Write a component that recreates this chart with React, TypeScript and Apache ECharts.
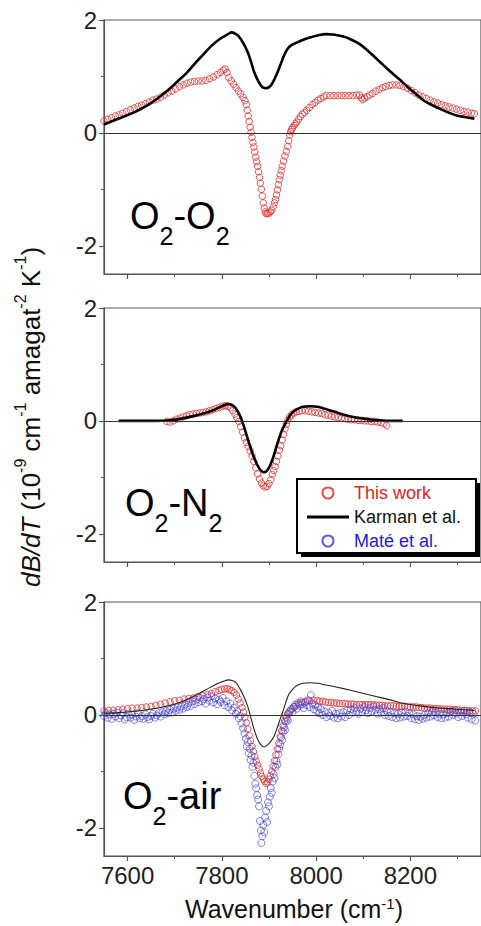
import React, { useEffect, useRef } from "react";
import * as echarts from "echarts";

const FONT = '"Liberation Sans", Arial, Helvetica, sans-serif';

const xTicks = [7600, 7800, 8000, 8200];
const xMinorTicks = [7700, 7900, 8100, 8300];
const yTicks = [-2, 0, 2];
const yMinorTicks = [-1, 1];
const panelNames = ["O2-O2", "O2-N2", "O2-air"];
const legendNames = ["This work", "Karman et al.", "Maté et al."];

// Panel 1: O2-O2
const o2o2Work: [number, number][] = [
  [7550, 0.21], [7558, 0.24], [7566, 0.27], [7574, 0.3], [7582, 0.32], [7590, 0.35], [7598, 0.38],
  [7606, 0.41], [7614, 0.44], [7622, 0.47], [7630, 0.49], [7638, 0.52], [7646, 0.55], [7654, 0.58],
  [7662, 0.6], [7670, 0.63], [7678, 0.67], [7686, 0.71], [7694, 0.74], [7702, 0.78], [7710, 0.82],
  [7718, 0.85], [7726, 0.88], [7734, 0.9], [7742, 0.91], [7750, 0.92], [7758, 0.92], [7766, 0.93],
  [7774, 0.96], [7782, 0.99], [7790, 1.03], [7797, 1.07], [7803, 1.11], [7807, 1.13], [7811, 1.07],
  [7815, 0.98], [7820, 0.92], [7825, 0.86], [7830, 0.8], [7835, 0.74], [7840, 0.69], [7845, 0.63],
  [7849, 0.57], [7852, 0.5], [7854, 0.4], [7856, 0.3], [7858, 0.2], [7860, 0.1], [7862, 0.01],
  [7864, -0.08], [7866, -0.17], [7868, -0.25], [7870, -0.34], [7872, -0.43], [7874, -0.51],
  [7876, -0.59], [7878, -0.69], [7880, -0.79], [7882, -0.89], [7884, -1.0], [7886, -1.12],
  [7888, -1.24], [7890, -1.33], [7892, -1.4], [7894, -1.43], [7897, -1.43], [7900, -1.42],
  [7903, -1.4], [7906, -1.37], [7909, -1.31], [7912, -1.24], [7914, -1.18], [7916, -1.1],
  [7918, -1.01], [7920, -0.92], [7922, -0.83], [7924, -0.75], [7926, -0.67], [7928, -0.59],
  [7931, -0.5], [7934, -0.41], [7937, -0.33], [7940, -0.24], [7942, -0.14], [7944, -0.04],
  [7946, 0.02], [7948, 0.06], [7950, 0.09], [7953, 0.13], [7956, 0.16], [7959, 0.19], [7963, 0.24],
  [7967, 0.29], [7971, 0.33], [7975, 0.36], [7980, 0.4], [7986, 0.45], [7992, 0.5], [7998, 0.54],
  [8004, 0.58], [8010, 0.61], [8016, 0.64], [8022, 0.66], [8030, 0.66], [8038, 0.66], [8046, 0.66],
  [8054, 0.66], [8062, 0.66], [8070, 0.66], [8078, 0.66], [8086, 0.67], [8092, 0.67], [8096, 0.62],
  [8099, 0.59], [8103, 0.62], [8108, 0.64], [8114, 0.67], [8120, 0.7], [8127, 0.74], [8134, 0.77],
  [8141, 0.8], [8148, 0.82], [8155, 0.84], [8162, 0.85], [8170, 0.85], [8178, 0.84], [8186, 0.82],
  [8194, 0.79], [8202, 0.75], [8210, 0.71], [8218, 0.67], [8226, 0.64], [8234, 0.61], [8242, 0.58],
  [8250, 0.55], [8258, 0.53], [8266, 0.5], [8274, 0.48], [8282, 0.46], [8290, 0.44], [8298, 0.42],
  [8306, 0.4], [8314, 0.38], [8322, 0.37], [8330, 0.35], [8336, 0.34],
];
const o2o2Karman: [number, number][] = [
  [7550, 0.15], [7580, 0.25], [7613, 0.36], [7640, 0.48], [7662, 0.6], [7685, 0.75], [7703, 0.89],
  [7725, 1.06], [7745, 1.25], [7762, 1.4], [7779, 1.55], [7795, 1.66], [7807, 1.72], [7815, 1.76],
  [7821, 1.78], [7828, 1.76], [7835, 1.72], [7845, 1.6], [7855, 1.43], [7862, 1.26], [7869, 1.07],
  [7876, 0.94], [7883, 0.84], [7888, 0.8], [7893, 0.79], [7898, 0.8], [7904, 0.84], [7911, 0.94],
  [7918, 1.07], [7925, 1.22], [7932, 1.37], [7939, 1.48], [7947, 1.55], [7959, 1.6], [7973, 1.65],
  [7987, 1.69], [8005, 1.73], [8022, 1.75], [8040, 1.74], [8056, 1.71], [8073, 1.66], [8091, 1.58],
  [8108, 1.47], [8125, 1.34], [8143, 1.2], [8160, 1.07], [8178, 0.94], [8195, 0.81], [8212, 0.69],
  [8229, 0.57], [8247, 0.49], [8264, 0.42], [8281, 0.36], [8298, 0.31], [8316, 0.28], [8336, 0.25],
];

// Panel 2: O2-N2
const o2n2Work: [number, number][] = [
  [7683, -0.01], [7690, -0.02], [7697, 0.0], [7704, 0.03], [7711, 0.05], [7718, 0.07], [7725, 0.09],
  [7732, 0.11], [7739, 0.12], [7746, 0.13], [7753, 0.14], [7760, 0.15], [7767, 0.16], [7774, 0.18],
  [7781, 0.2], [7788, 0.22], [7795, 0.24], [7802, 0.26], [7808, 0.27], [7813, 0.26], [7818, 0.23],
  [7823, 0.18], [7828, 0.12], [7832, 0.06], [7836, -0.01], [7840, -0.1], [7844, -0.2], [7848, -0.3],
  [7852, -0.38], [7856, -0.45], [7860, -0.53], [7864, -0.62], [7868, -0.72], [7872, -0.83],
  [7876, -0.94], [7880, -1.03], [7884, -1.1], [7888, -1.15], [7892, -1.17], [7896, -1.16],
  [7900, -1.11], [7904, -1.04], [7907, -0.95], [7910, -0.88], [7913, -0.81], [7916, -0.72],
  [7919, -0.62], [7922, -0.52], [7925, -0.44], [7928, -0.34], [7931, -0.24], [7934, -0.14],
  [7937, -0.06], [7940, 0.01], [7944, 0.07], [7948, 0.11], [7953, 0.14], [7958, 0.16], [7964, 0.17],
  [7970, 0.18], [7977, 0.18], [7984, 0.17], [7991, 0.16], [7998, 0.15], [8005, 0.14], [8012, 0.13],
  [8019, 0.11], [8026, 0.1], [8033, 0.08], [8040, 0.07], [8047, 0.06], [8054, 0.05], [8061, 0.04],
  [8068, 0.03], [8075, 0.02], [8082, 0.02], [8089, 0.01], [8096, 0.01], [8103, 0.0], [8110, 0.0],
  [8117, -0.01], [8124, -0.01], [8131, -0.02], [8138, -0.03], [8144, -0.05], [8150, -0.08],
];
const o2n2Karman: [number, number][] = [
  [7581, 0.0], [7620, 0.0], [7660, 0.0], [7690, 0.01], [7715, 0.04], [7737, 0.08], [7760, 0.13],
  [7779, 0.18], [7795, 0.24], [7806, 0.28], [7814, 0.3], [7822, 0.28], [7830, 0.22], [7837, 0.12],
  [7843, 0.0], [7850, -0.18], [7858, -0.4], [7866, -0.6], [7874, -0.76], [7882, -0.87], [7889, -0.91],
  [7895, -0.89], [7902, -0.8], [7910, -0.62], [7918, -0.4], [7926, -0.2], [7934, -0.06], [7942, 0.06],
  [7950, 0.15], [7960, 0.21], [7972, 0.25], [7987, 0.26], [8003, 0.25], [8020, 0.21], [8040, 0.16],
  [8063, 0.1], [8085, 0.06], [8110, 0.03], [8132, 0.01], [8160, 0.0], [8184, 0.0],
];

// Panel 3: O2-air
const o2airWork: [number, number][] = [
  [7550, 0.07], [7560, 0.08], [7570, 0.08], [7580, 0.09], [7590, 0.1], [7600, 0.11], [7610, 0.12],
  [7620, 0.12], [7630, 0.13], [7640, 0.14], [7650, 0.15], [7660, 0.17], [7670, 0.19], [7680, 0.21],
  [7690, 0.23], [7700, 0.25], [7710, 0.26], [7720, 0.28], [7730, 0.29], [7740, 0.3], [7750, 0.32],
  [7760, 0.34], [7770, 0.36], [7778, 0.38], [7786, 0.41], [7794, 0.43], [7800, 0.45], [7806, 0.46],
  [7811, 0.46], [7816, 0.45], [7821, 0.43], [7826, 0.4], [7831, 0.35], [7835, 0.28], [7839, 0.21],
  [7843, 0.13], [7846, 0.05], [7849, -0.04], [7852, -0.14], [7855, -0.25], [7858, -0.36],
  [7861, -0.46], [7864, -0.56], [7867, -0.65], [7870, -0.74], [7873, -0.82], [7876, -0.89],
  [7879, -0.96], [7882, -1.03], [7885, -1.09], [7888, -1.14], [7891, -1.18], [7894, -1.21],
  [7897, -1.19], [7900, -1.14], [7903, -1.08], [7906, -1.0], [7909, -0.91], [7912, -0.81],
  [7915, -0.71], [7918, -0.6], [7921, -0.5], [7924, -0.38], [7927, -0.28], [7930, -0.19],
  [7933, -0.11], [7936, -0.04], [7940, 0.02], [7945, 0.07], [7950, 0.11], [7956, 0.15], [7963, 0.19],
  [7970, 0.22], [7978, 0.24], [7986, 0.25], [7994, 0.26], [8002, 0.25], [8008, 0.24], [8014, 0.24],
  [8020, 0.23], [8026, 0.22], [8032, 0.22], [8038, 0.21], [8044, 0.21], [8050, 0.2], [8056, 0.2],
  [8062, 0.2], [8068, 0.19], [8074, 0.19], [8080, 0.19], [8086, 0.18], [8092, 0.18], [8098, 0.18],
  [8104, 0.18], [8110, 0.18], [8116, 0.18], [8122, 0.18], [8128, 0.17], [8134, 0.17], [8140, 0.17],
  [8146, 0.16], [8152, 0.16], [8158, 0.16], [8164, 0.16], [8170, 0.15], [8176, 0.15], [8182, 0.15],
  [8188, 0.15], [8194, 0.14], [8200, 0.14], [8206, 0.14], [8212, 0.14], [8218, 0.13], [8224, 0.13],
  [8230, 0.12], [8236, 0.12], [8242, 0.12], [8248, 0.11], [8254, 0.11], [8260, 0.11], [8266, 0.1],
  [8272, 0.1], [8278, 0.1], [8284, 0.1], [8290, 0.09], [8296, 0.09], [8302, 0.09], [8308, 0.08],
  [8314, 0.08], [8320, 0.08], [8326, 0.07], [8332, 0.07], [8338, 0.07],
];
const o2airMate: [number, number][] = [
  [7550, -0.02], [7554, 0.03], [7558, -0.05], [7562, 0.01], [7566, -0.07], [7570, 0.02], [7574, -0.03],
  [7578, 0.04], [7582, -0.06], [7586, -0.01], [7590, 0.03], [7594, -0.08], [7598, -0.04], [7602, 0.02],
  [7606, -0.05], [7610, 0.0], [7614, -0.09], [7618, -0.03], [7622, 0.03], [7626, -0.06], [7630, -0.02],
  [7634, -0.07], [7638, 0.01], [7642, -0.04], [7646, -0.08], [7650, -0.02], [7654, 0.02], [7658, -0.05],
  [7662, -0.01], [7666, 0.03], [7670, -0.03], [7674, 0.05], [7678, 0.01], [7682, 0.07], [7686, 0.03],
  [7690, 0.09], [7694, 0.04], [7698, 0.11], [7702, 0.07], [7706, 0.13], [7710, 0.09], [7714, 0.15],
  [7718, 0.11], [7722, 0.18], [7726, 0.14], [7730, 0.21], [7734, 0.16], [7738, 0.24], [7742, 0.19],
  [7746, 0.27], [7750, 0.22], [7754, 0.3], [7758, 0.24], [7762, 0.28], [7766, 0.2], [7770, 0.31],
  [7774, 0.25], [7778, 0.33], [7782, 0.22], [7786, 0.29], [7790, 0.19], [7794, 0.27], [7798, 0.23],
  [7802, 0.3], [7806, 0.17], [7810, 0.24], [7814, 0.14], [7818, 0.2], [7822, 0.08], [7826, 0.13],
  [7830, 0.02], [7833, 0.07], [7836, -0.06], [7839, -0.02], [7842, -0.15], [7845, -0.24], [7848, -0.33],
  [7851, -0.42], [7853, -0.56], [7855, -0.48], [7857, -0.68], [7859, -0.6], [7861, -0.8], [7863, -0.72],
  [7865, -0.92], [7867, -0.85], [7869, -1.08], [7871, -1.22], [7873, -1.3], [7875, -1.42], [7877, -1.5],
  [7879, -1.62], [7881, -1.88], [7883, -2.05], [7884, -2.27], [7886, -2.15], [7888, -1.95], [7890, -2.08],
  [7892, -1.82], [7894, -1.7], [7896, -1.9], [7898, -1.55], [7900, -1.62], [7902, -1.45], [7904, -1.3],
  [7906, -1.38], [7908, -1.18], [7910, -1.05], [7912, -1.12], [7914, -0.92], [7916, -0.82], [7918, -0.88],
  [7920, -0.7], [7922, -0.6], [7924, -0.52], [7926, -0.4], [7928, -0.45], [7930, -0.3], [7932, -0.22],
  [7934, -0.27], [7936, -0.12], [7938, -0.06], [7940, -0.1], [7942, 0.02], [7944, 0.06], [7947, 0.1],
  [7950, 0.05], [7953, 0.14], [7956, 0.18], [7959, 0.11], [7962, 0.21], [7965, 0.16], [7968, 0.24],
  [7971, 0.19], [7974, 0.12], [7977, 0.22], [7980, 0.17], [7983, 0.26], [7986, 0.14], [7989, 0.35],
  [7992, 0.2], [7995, 0.1], [7998, 0.18], [8001, 0.07], [8004, 0.14], [8007, 0.03], [8010, 0.1],
  [8014, 0.0], [8018, 0.06], [8022, -0.04], [8026, 0.04], [8030, -0.02], [8034, 0.07], [8038, -0.05],
  [8042, 0.02], [8046, -0.06], [8050, 0.03], [8054, -0.03], [8058, 0.05], [8062, -0.04], [8066, 0.08],
  [8070, 0.0], [8074, 0.1], [8078, 0.04], [8082, 0.12], [8086, 0.06], [8090, 0.02], [8094, 0.11],
  [8098, 0.05], [8102, 0.14], [8106, 0.08], [8110, 0.03], [8114, 0.12], [8118, 0.06], [8122, 0.15],
  [8126, 0.09], [8130, 0.02], [8134, 0.1], [8138, 0.04], [8142, 0.12], [8146, 0.0], [8150, 0.07],
  [8154, -0.02], [8158, 0.05], [8162, -0.04], [8166, 0.03], [8170, -0.06], [8174, 0.02], [8178, -0.05],
  [8182, 0.04], [8186, -0.03], [8190, 0.06], [8194, -0.02], [8198, 0.03], [8202, -0.06], [8206, 0.01],
  [8210, -0.08], [8214, -0.02], [8218, -0.09], [8222, -0.03], [8226, -0.07], [8230, 0.0], [8234, -0.05],
  [8238, 0.03], [8242, -0.03], [8246, 0.05], [8250, -0.01], [8254, 0.04], [8258, -0.04], [8262, 0.02],
  [8266, -0.06], [8270, 0.01], [8274, -0.05], [8278, 0.03], [8282, -0.03], [8286, 0.06], [8290, 0.0],
  [8294, 0.08], [8298, 0.02], [8302, -0.04], [8306, 0.05], [8310, -0.02], [8314, 0.07], [8318, 0.01],
  [8322, -0.05], [8326, 0.04], [8330, -0.08], [8334, 0.02], [8338, -0.1],
];
const o2airKarman: [number, number][] = [
  [7550, 0.03], [7580, 0.04], [7610, 0.06], [7640, 0.09], [7670, 0.13], [7700, 0.19], [7717, 0.24],
  [7740, 0.33], [7765, 0.44], [7790, 0.55], [7805, 0.6], [7814, 0.62], [7822, 0.61], [7830, 0.57],
  [7838, 0.47], [7846, 0.34], [7855, 0.15], [7862, -0.06], [7869, -0.27], [7876, -0.43], [7883, -0.53],
  [7890, -0.57], [7897, -0.53], [7904, -0.47], [7911, -0.38], [7918, -0.22], [7924, -0.07], [7928, 0.02],
  [7935, 0.2], [7942, 0.36], [7950, 0.45], [7959, 0.52], [7972, 0.56], [7987, 0.57], [8003, 0.56],
  [8020, 0.53], [8040, 0.5], [8056, 0.47], [8090, 0.4], [8125, 0.33], [8155, 0.27], [8181, 0.21],
  [8220, 0.16], [8264, 0.12], [8300, 0.1], [8336, 0.08],
];

const RED = "#e23434";
const BLUE = "#4343d4";
const AXIS = "#555";

const gridTops = [20, 308, 602];
const gridHeight = 254;
const labelPos = [
  { x: 130, y: 216 },
  { x: 125, y: 503 },
  { x: 123, y: 796 },
];

function buildOption() {
  const grids = gridTops.map((top) => ({
    left: 104,
    right: -7,
    top,
    height: gridHeight,
    show: true,
    borderColor: AXIS,
    borderWidth: 1.2,
  }));

  const xAxes: any[] = [];
  const yAxes: any[] = [];
  gridTops.forEach((_, i) => {
    xAxes.push({
      gridIndex: i,
      type: "value",
      min: 7550,
      max: 8350,
      position: "bottom",
      axisLine: { show: true, onZero: false, lineStyle: { color: AXIS, width: 1.2 } },
      axisTick: { show: true, length: 5, customValues: xTicks, lineStyle: { color: AXIS, width: 1.2 } },
      axisLabel: {
        show: i === 2,
        customValues: xTicks,
        formatter: (v: number) => String(v),
        fontSize: 24,
        fontFamily: FONT,
        color: "#222",
        margin: 7,
        lineHeight: 24,
      },
      splitLine: { show: false },
    });
    xAxes.push({
      gridIndex: i,
      type: "value",
      min: 7550,
      max: 8350,
      position: "bottom",
      axisLine: { show: false, onZero: false },
      axisTick: { show: true, length: 3, customValues: xMinorTicks, lineStyle: { color: AXIS, width: 1 } },
      axisLabel: { show: false },
      splitLine: { show: false },
    });
    yAxes.push({
      gridIndex: i,
      type: "value",
      min: -2.5,
      max: 2,
      position: "left",
      axisLine: { show: true, onZero: false, lineStyle: { color: AXIS, width: 1.2 } },
      axisTick: { show: true, length: 5, customValues: yTicks, lineStyle: { color: AXIS, width: 1.2 } },
      axisLabel: {
        show: true,
        customValues: yTicks,
        formatter: (v: number) => String(v),
        fontSize: 24,
        fontFamily: FONT,
        color: "#222",
        margin: 7,
      },
      splitLine: { show: false },
    });
    yAxes.push({
      gridIndex: i,
      type: "value",
      min: -2.5,
      max: 2,
      position: "left",
      axisLine: { show: false, onZero: false },
      axisTick: { show: true, length: 3, customValues: yMinorTicks, lineStyle: { color: AXIS, width: 1 } },
      axisLabel: { show: false },
      splitLine: { show: false },
    });
  });

  const zeroLine = {
    silent: true,
    symbol: ["none", "none"],
    label: { show: false },
    lineStyle: { color: "#333", width: 1, type: "solid" },
    data: [{ yAxis: 0 }],
  };

  const workStyle = (data: [number, number][], i: number) => ({
    type: "scatter",
    name: legendNames[0],
    xAxisIndex: i * 2,
    yAxisIndex: i * 2,
    data,
    symbol: "circle",
    symbolSize: 6.5,
    itemStyle: { color: "rgba(255,255,255,0)", borderColor: RED, borderWidth: 1, opacity: 0.85 },
    z: 2,
  });
  const karmanStyle = (data: [number, number][], i: number, width: number, color: string) => ({
    type: "line",
    name: legendNames[1],
    xAxisIndex: i * 2,
    yAxisIndex: i * 2,
    data,
    smooth: 0.35,
    symbol: "none",
    showSymbol: false,
    lineStyle: { color, width },
    itemStyle: { color },
    markLine: zeroLine,
    z: 4,
  });

  const series: any[] = [
    workStyle(o2o2Work, 0),
    karmanStyle(o2o2Karman, 0, 2.6, "#000"),
    workStyle(o2n2Work, 1),
    karmanStyle(o2n2Karman, 1, 2.6, "#000"),
    workStyle(o2airWork, 2),
    {
      type: "scatter",
      name: legendNames[2],
      xAxisIndex: 4,
      yAxisIndex: 4,
      data: o2airMate,
      symbol: "circle",
      symbolSize: 7,
      itemStyle: { color: "rgba(255,255,255,0)", borderColor: BLUE, borderWidth: 0.8, opacity: 0.85 },
      z: 3,
    },
    karmanStyle(o2airKarman, 2, 1.1, "#222"),
  ];

  const supRich = (size: number) => ({
    fontSize: size,
    fontFamily: FONT,
    fill: "#111",
    lineHeight: 6,
    verticalAlign: "top",
  });

  const graphics: any[] = [
    // legend frame with drop shadow
    { type: "rect", shape: { x: 301, y: 483, width: 179, height: 74 }, style: { fill: "#000" }, z: 0, silent: true },
    {
      type: "rect",
      shape: { x: 297, y: 479, width: 179, height: 74 },
      style: { fill: "#fff", stroke: "#000", lineWidth: 2 },
      z: 1,
      silent: true,
    },
    // y-axis title
    {
      type: "text",
      x: 31,
      y: 417,
      rotation: Math.PI / 2,
      z: 5,
      style: {
        text: "{i|dB/dT}{n| (10}{s|-9}{n| cm}{s|-1}{n| amagat}{s|-2}{n| K}{s|-1}{n|)}",
        align: "center",
        verticalAlign: "middle",
        fill: "#111",
        fontSize: 26,
        fontFamily: FONT,
        rich: {
          i: { fontSize: 26, fontFamily: FONT, fontStyle: "italic", fill: "#111", lineHeight: 38 },
          n: { fontSize: 26, fontFamily: FONT, fill: "#111", lineHeight: 38 },
          s: supRich(16),
        },
      },
    },
    // x-axis title
    {
      type: "text",
      x: 294,
      y: 909,
      z: 5,
      style: {
        text: "{n|Wavenumber (cm}{s|-1}{n|)}",
        align: "center",
        verticalAlign: "middle",
        fill: "#111",
        fontSize: 25,
        fontFamily: FONT,
        rich: {
          n: { fontSize: 25, fontFamily: FONT, fill: "#111", lineHeight: 26 },
          s: supRich(15),
        },
      },
    },
  ];

  const labelTexts = [
    "{m|O}{s|2}{m|-O}{s|2}",
    "{m|O}{s|2}{m|-N}{s|2}",
    "{m|O}{s|2}{m|-air}",
  ];
  labelTexts.forEach((t, i) => {
    graphics.push({
      type: "text",
      x: labelPos[i].x,
      y: labelPos[i].y,
      z: 5,
      name: panelNames[i],
      style: {
        text: t,
        align: "left",
        verticalAlign: "middle",
        fill: "#000",
        fontSize: 38,
        fontFamily: FONT,
        rich: {
          m: { fontSize: 38, fontFamily: FONT, fill: "#000", lineHeight: 64 },
          s: { fontSize: 25, fontFamily: FONT, fill: "#000", lineHeight: 10, verticalAlign: "bottom" },
        },
      },
    });
  });

  return {
    animation: false,
    backgroundColor: "#fff",
    grid: grids,
    xAxis: xAxes,
    yAxis: yAxes,
    legend: {
      left: 297,
      top: 479,
      orient: "vertical",
      itemWidth: 42,
      itemHeight: 11,
      itemGap: 4,
      padding: [4, 10, 4, 10],
      selectedMode: false,
      textStyle: { fontSize: 18, fontFamily: FONT, lineHeight: 20 },
      data: [
        { name: legendNames[0], textStyle: { color: "#e02424" } },
        {
          name: legendNames[1],
          icon: "path://M0,0H42V3H0Z",
          itemStyle: { color: "#000" },
          textStyle: { color: "#111" },
        },
        { name: legendNames[2], textStyle: { color: "#1c1cd9" } },
      ],
    },
    graphic: graphics,
    series,
  };
}

export default function App() {
  const ref = useRef<HTMLDivElement>(null);
  useEffect(() => {
    if (!ref.current) return;
    const chart = echarts.init(ref.current, null, { renderer: "svg" });
    chart.setOption(buildOption() as any);
    return () => chart.dispose();
  }, []);
  return (
    <div
      ref={ref}
      style={{ position: "fixed", left: 0, top: 0, width: 481, height: 926, background: "#fff" }}
    />
  );
}
